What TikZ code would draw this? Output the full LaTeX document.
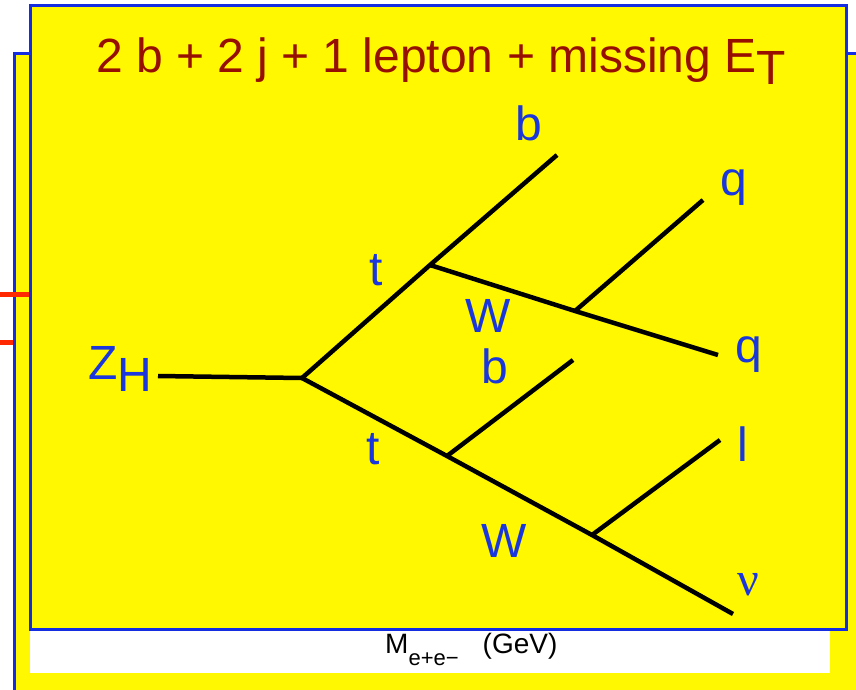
\documentclass[tikz,border=0pt]{standalone}
\usepackage{fontspec}
\setmainfont{Liberation Sans}
\newfontfamily\greekfont{Liberation Serif}
\definecolor{panelyellow}{RGB}{255,248,0}
\definecolor{frameblue}{RGB}{20,45,225}
\definecolor{titlered}{RGB}{150,15,0}
\definecolor{labelblue}{RGB}{25,55,220}
\definecolor{axisred}{RGB}{255,40,0}
\begin{document}
\begin{tikzpicture}[
	x=1pt,
	y=-1pt,
	panel/.style={fill=panelyellow, draw=frameblue, line width=3pt},
	leg/.style={line width=4.5pt, black},
	lbl/.style={anchor=base west, inner sep=0pt, text=labelblue, font=\fontsize{48}{50}\selectfont},
	tick/.style={line width=5pt, axisred}
	]
	\useasboundingbox (0,0) rectangle (856,689);

	% panel behind and the frame in front
	\draw[panel] (14,53) rectangle (880,720);
	\draw[tick] (0,294.5) -- (29,294.5);
	\draw[tick] (0,342.5) -- (13,342.5);
	\fill[white] (30,629) rectangle (830,673);
	\draw[panel] (30,5) rectangle (846,629);

	\node[anchor=base, inner sep=0pt, text=titlered, font=\fontsize{48}{50}\selectfont] (title) at (441,72)
		{2 b + 2 j + 1 lepton + missing E\raisebox{-12pt}{T}};
	\node[anchor=base west, inner sep=0pt, font=\fontsize{28}{30}\selectfont] (axis) at (385,653)
		{M\raisebox{-12pt}{\fontsize{22}{24}\selectfont e+e−}\hspace{24pt}(GeV)};

	% vertices of the decay tree
	\coordinate (zs) at (158,376);
	\coordinate (v0) at (302,378);
	\coordinate (v1) at (430,265);
	\coordinate (bt) at (557,155);
	\coordinate (w1) at (575,311);
	\coordinate (qt) at (703,200);
	\coordinate (qr) at (718,355);
	\coordinate (v2) at (447,456);
	\coordinate (bm) at (573,360);
	\coordinate (w2) at (592,535);
	\coordinate (lep) at (720,440);
	\coordinate (nu) at (733,614);

	\draw[leg] (zs) -- (v0);
	\draw[leg] (v0) -- (v1) -- (bt);
	\draw[leg] (v1) -- (w1) -- (qr);
	\draw[leg] (w1) -- (qt);
	\draw[leg] (v0) -- (v2) -- (w2) -- (nu);
	\draw[leg] (v2) -- (bm);
	\draw[leg] (w2) -- (lep);

	\node[lbl] (zh) at (88,379) {Z\raisebox{-12pt}{H}};
	\node[lbl] (tup) at (369,285) {t};
	\node[lbl] (bup) at (515,140) {b};
	\node[lbl] (wup) at (465,332) {W};
	\node[lbl] (qup) at (720,195) {q};
	\node[lbl] (qdn) at (735,362) {q};
	\node[lbl] (bdn) at (481,383) {b};
	\node[lbl] (tdn) at (366,464) {t};
	\node[lbl] (wdn) at (481,557) {W};
	\node[lbl] (lp) at (737,461) {l};
	\node[lbl, font=\greekfont\fontsize{48}{50}\selectfont] (nul) at (737,595) {ν};
\end{tikzpicture}
\end{document}
